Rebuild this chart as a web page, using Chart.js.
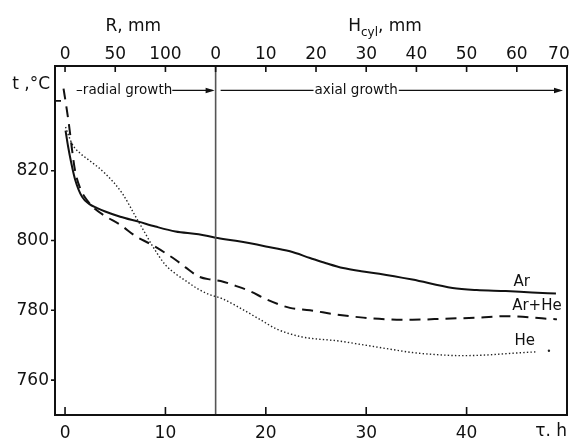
<!DOCTYPE html>
<html>
<head>
<meta charset="utf-8">
<script src="https://cdn.jsdelivr.net/npm/chart.js@4/dist/chart.umd.min.js"></script>
<style>
  html, body { margin: 0; padding: 0; background: #fff; }
  #wrap { width: 572px; height: 439px; position: relative; }
</style>
</head>
<body>
<div id="wrap"><canvas id="coolingChart"></canvas></div>
<script>
// cooling curves, time in hours, temperature in °C
const arTime  = [0.05, 0.3, 0.6, 1.0, 1.7, 2.4, 3.2, 4.0, 5.5, 7.3, 9.0, 11.0, 13.3, 15.0, 17.0, 20.0, 22.4, 24.4, 26.0, 27.7, 29.5, 31.3, 34.6, 38.6, 41.0, 43.9, 46.5, 48.9];
const arTemp  = [831.5, 827, 822.5, 817.5, 812.5, 810.5, 809.3, 808.3, 806.8, 805.4, 804.0, 802.6, 801.8, 800.8, 799.9, 798.3, 796.9, 795.0, 793.5, 792.1, 791.2, 790.5, 788.8, 786.4, 785.8, 785.5, 785.1, 784.8];

const mixTime = [-0.15, 0.15, 0.4, 0.7, 1.0, 1.5, 2.2, 3.0, 4.0, 5.5, 7.0, 8.5, 10.0, 11.0, 12.0, 13.3, 14.5, 15.5, 17.0, 18.4, 20.1, 22.4, 24.4, 27.0, 29.7, 32.3, 34.6, 37.9, 41.2, 43.8, 45.1, 47.5, 49.0];
const mixTemp = [843.5, 838, 833, 826, 820, 815, 811.5, 809, 807, 804.5, 801.3, 799, 796.4, 794.5, 792.3, 789.7, 788.8, 788.4, 787, 785.5, 783.1, 780.7, 780, 778.8, 777.9, 777.4, 777.3, 777.6, 777.9, 778.3, 778.2, 777.7, 777.4];

const heTime  = [0.05, 0.7, 1.5, 2.4, 4.0, 5.7, 7.0, 7.8, 8.8, 10.0, 11.0, 12.0, 13.3, 14.4, 15.6, 17.1, 19.4, 21.1, 23.4, 25.0, 27.0, 29.5, 32.3, 34.6, 37.0, 39.6, 42.0, 44.6, 46.9, 47.5, 48.2];
const heTemp  = [832.5, 827.7, 825, 823, 819.2, 813.5, 807, 803, 798, 793, 790.5, 788.5, 786, 784.5, 783.4, 781.2, 777.4, 774.6, 772.5, 771.8, 771.3, 770.2, 768.9, 767.9, 767.3, 767, 767.2, 767.7, 768.1, null, 768.4];

const seriesNames = ["Ar", "Ar+He", "He"];

// axes
const timeTicks = [0, 10, 20, 30, 40];
const tempTicks = [760, 780, 800, 820, 840];
const rTicks = [0, 50, 100];          // R, mm (radial growth)
const hTicks = [0, 10, 20, 30, 40, 50, 60, 70]; // H_cyl, mm (axial growth)
const switchTime = 15;                // radial -> axial growth
const rPerHour = 10;
const hPerHour = 2;

const FONT = "DejaVu Sans";
Chart.defaults.font.family = FONT;
Chart.defaults.color = "#111";

const toPoints = (xs, ys) => xs.map((x, i) => ({ x: x, y: ys[i] }));

const topValues = rTicks.map(r => r / rPerHour).concat(hTicks.map(h => switchTime + h / hPerHour));
const topLabels = rTicks.concat(hTicks).map(String);
// last label sits at the frame corner, nudge it inside like the original
topLabels[topLabels.length - 1] += "\u00a0\u00a0\u00a0";

const decor = {
    id: "decor",
    afterDraw(chart) {
        const ctx = chart.ctx;
        const a = chart.chartArea;
        const xs = chart.scales.x;
        const ys = chart.scales.y;
        ctx.save();

        // boundary radial / axial
        const xv = xs.getPixelForValue(switchTime);
        ctx.strokeStyle = "#555";
        ctx.lineWidth = 1.6;
        ctx.beginPath();
        ctx.moveTo(xv, a.top);
        ctx.lineTo(xv, a.bottom);
        ctx.stroke();

        // frame
        ctx.strokeStyle = "#111";
        ctx.lineWidth = 2;
        ctx.strokeRect(a.left, a.top, a.right - a.left, a.bottom - a.top);

        // tick marks
        ctx.lineWidth = 1.6;
        ctx.beginPath();
        timeTicks.forEach(t => {
            const p = xs.getPixelForValue(t);
            ctx.moveTo(p, a.bottom);
            ctx.lineTo(p, a.bottom - 8);
        });
        topValues.forEach(t => {
            const p = xs.getPixelForValue(t);
            ctx.moveTo(p, a.top);
            ctx.lineTo(p, a.top + 6);
        });
        tempTicks.forEach(v => {
            const p = ys.getPixelForValue(v);
            if (v === 840) {
                ctx.moveTo(a.left, p);
                ctx.lineTo(a.left + 6, p);
            } else {
                ctx.moveTo(a.left - 4, p);
                ctx.lineTo(a.left, p);
            }
        });
        ctx.stroke();

        ctx.fillStyle = "#111";
        ctx.textBaseline = "middle";

        // growth arrows
        const arrowY = ys.getPixelForValue(843);
        const head = (x) => {
            ctx.beginPath();
            ctx.moveTo(x, arrowY);
            ctx.lineTo(x - 9, arrowY - 2.8);
            ctx.lineTo(x - 9, arrowY + 2.8);
            ctx.closePath();
            ctx.fill();
        };
        ctx.font = "13.5px " + FONT;
        ctx.lineWidth = 1.2;
        ctx.textAlign = "left";
        const rText = "\u2013radial growth";
        const rx = xs.getPixelForValue(1.1);
        ctx.fillText(rText, rx, arrowY);
        const rEnd = rx + ctx.measureText(rText).width;
        ctx.beginPath();
        ctx.moveTo(rEnd, arrowY);
        ctx.lineTo(xv - 3, arrowY);
        ctx.stroke();
        head(xv - 1);

        const aText = "axial growth";
        const aw = ctx.measureText(aText).width;
        const ac = xs.getPixelForValue(29.0);
        ctx.textAlign = "center";
        ctx.fillText(aText, ac, arrowY);
        const aEnd = xs.getPixelForValue(49.6);
        ctx.beginPath();
        ctx.moveTo(xv + 5, arrowY);
        ctx.lineTo(ac - aw / 2 - 1, arrowY);
        ctx.moveTo(ac + aw / 2 + 1, arrowY);
        ctx.lineTo(aEnd - 3, arrowY);
        ctx.stroke();
        head(aEnd);

        // series labels
        ctx.font = "15px " + FONT;
        ctx.textAlign = "center";
        const labelPos = [[45.5, 788.0], [47.0, 781.1], [45.8, 771.1]];
        seriesNames.forEach((n, i) => {
            ctx.fillText(n, xs.getPixelForValue(labelPos[i][0]), ys.getPixelForValue(labelPos[i][1]));
        });

        // axis titles
        ctx.font = "17px " + FONT;
        ctx.textAlign = "right";
        ctx.fillText("t ,\u00B0C", a.left - 5, ys.getPixelForValue(844.8));
        ctx.textAlign = "center";
        ctx.fillText("R, mm", xs.getPixelForValue(6.8), 27);
        ctx.textAlign = "right";
        ctx.fillText("\u03C4. h", a.right, 432);

        ctx.textAlign = "left";
        let hx = xs.getPixelForValue(28.2);
        ctx.fillText("H", hx, 27);
        hx += ctx.measureText("H").width;
        ctx.font = "12px " + FONT;
        ctx.fillText("cyl", hx, 33);
        hx += ctx.measureText("cyl").width;
        ctx.font = "17px " + FONT;
        ctx.fillText(", mm", hx, 27);

        ctx.restore();
    }
};

const noTicks = { display: false, drawTicks: false };

new Chart(document.getElementById("coolingChart"), {
    type: "line",
    data: {
        datasets: [
            {
                label: seriesNames[0],
                data: toPoints(arTime, arTemp),
                borderColor: "#111",
                borderWidth: 2,
                pointRadius: 0,
                cubicInterpolationMode: "monotone",
            },
            {
                label: seriesNames[1],
                data: toPoints(mixTime, mixTemp),
                borderColor: "#111",
                borderWidth: 2,
                borderDash: [11, 7],
                pointRadius: 0,
                cubicInterpolationMode: "monotone",
            },
            {
                label: seriesNames[2],
                data: toPoints(heTime, heTemp),
                borderColor: "#222",
                backgroundColor: "#222",
                borderWidth: 1.4,
                borderDash: [1.4, 2.2],
                pointRadius: (c) => (c.dataIndex === heTime.length - 1 ? 1.2 : 0),
                pointBorderWidth: 0,
                spanGaps: false,
                cubicInterpolationMode: "monotone",
            },
        ],
    },
    options: {
        responsive: true,
        maintainAspectRatio: false,
        animation: false,
        layout: { padding: { left: 0, right: 5, top: 0, bottom: 0 } },
        plugins: {
            legend: { display: false },
            tooltip: { enabled: false },
        },
        scales: {
            x: {
                type: "linear",
                position: "bottom",
                min: -1,
                max: 50,
                grid: noTicks,
                border: { display: false },
                afterBuildTicks: (s) => { s.ticks = timeTicks.map(v => ({ value: v })); },
                afterFit: (s) => { s.height = 24; s.paddingLeft = 0; s.paddingRight = 0; },
                ticks: {
                    autoSkip: false,
                    maxRotation: 0,
                    padding: 8,
                    font: { size: 17 },
                    color: "#111",
                },
            },
            top: {
                type: "linear",
                position: "top",
                min: -1,
                max: 50,
                grid: noTicks,
                border: { display: false },
                afterBuildTicks: (s) => { s.ticks = topValues.map(v => ({ value: v })); },
                afterFit: (s) => { s.height = 66; s.paddingLeft = 0; s.paddingRight = 0; },
                ticks: {
                    autoSkip: false,
                    maxRotation: 0,
                    padding: 1,
                    font: { size: 17 },
                    color: "#111",
                    callback: (v, i) => topLabels[i],
                },
            },
            y: {
                type: "linear",
                min: 750,
                max: 850,
                grid: noTicks,
                border: { display: false },
                afterBuildTicks: (s) => { s.ticks = tempTicks.map(v => ({ value: v })); },
                afterFit: (s) => { s.width = 55; s.paddingTop = 0; s.paddingBottom = 0; },
                ticks: {
                    padding: 6,
                    font: { size: 17 },
                    color: "#111",
                    callback: (v) => (v === 840 ? "" : v),
                },
            },
        },
    },
    plugins: [decor],
});
</script>
</body>
</html>
